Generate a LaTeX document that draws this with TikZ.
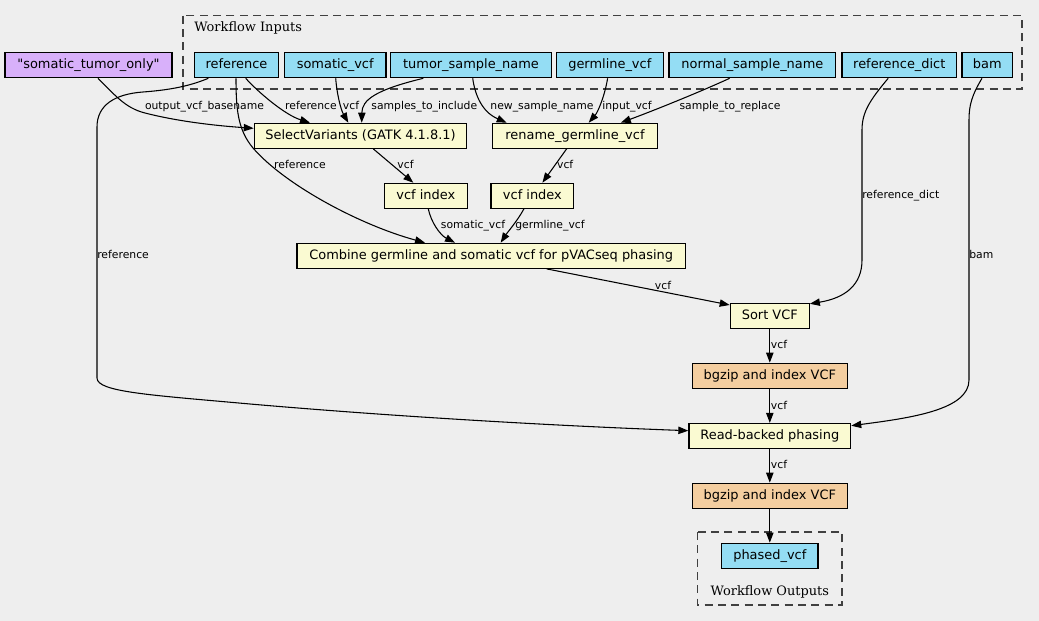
\documentclass[tikz,border=0pt]{standalone}
\usepackage{fontspec}
\setmainfont{DejaVu Sans}
\newfontfamily\plainsans{DejaVu Sans}[Ligatures=TeXOff]
\newfontfamily\clusterfont{DejaVu Serif}
\usetikzlibrary{arrows.meta,calc}

\definecolor{bgc}{RGB}{238,238,238}
\definecolor{inblue}{RGB}{148,221,244}
\definecolor{stepyel}{RGB}{250,250,210}
\definecolor{bgzorange}{RGB}{244,206,160}
\definecolor{constpurple}{RGB}{216,176,250}

\begin{document}
\begin{tikzpicture}[x=0.75pt,y=-0.75pt,
  box/.style={draw=black,line width=0.9pt,inner sep=0pt,minimum height=18.75pt,
    text height=6.9pt,text depth=1.9pt,font=\fontsize{9.7}{11}\selectfont},
  w/.style={minimum width=#1*0.75pt},
  inp/.style={box,fill=inblue},
  stp/.style={box,fill=stepyel},
  bgz/.style={box,fill=bgzorange},
  cst/.style={box,fill=constpurple},
  cluster/.style={draw=black!75,line width=0.8pt,dash pattern=on 6pt off 4pt},
  edge/.style={draw=black,line width=0.8pt,-{Triangle[length=7.5pt,width=5.5pt]}},
  elabel/.style={font=\fontsize{8.1}{9}\selectfont,inner sep=0pt,text height=6.1pt,text depth=0pt},
  clabel/.style={font=\clusterfont\fontsize{9.7}{11}\selectfont,inner sep=0pt}
]
\path[use as bounding box,fill=bgc] (0,0) rectangle (1039,621);

% clusters
\draw[cluster] (183,15.7) rectangle (1022,89);
\node[clabel,anchor=west] (inlabel) at (194,27.7) {Workflow Inputs};
\draw[cluster] (697.7,532) rectangle (842,605);
\node[clabel] (outlabel) at (769.8,591.7) {Workflow Outputs};

% input nodes
\node[cst,w=167] (sto) at (88.5,65.2) {\plainsans "somatic\_tumor\_only"};
\node[inp,w=84.4] (ref) at (236.5,65.2) {reference};
\node[inp,w=101.7] (somvcf) at (335.2,65.2) {somatic\_vcf};
\node[inp,w=160.6] (tsn) at (471,65.2) {tumor\_sample\_name};
\node[inp,w=106.9] (gvcf) at (609.8,65.2) {germline\_vcf};
\node[inp,w=166.8] (nsn) at (752.4,65.2) {normal\_sample\_name};
\node[inp,w=114.7] (rdict) at (899.3,65.2) {reference\_dict};
\node[inp,w=50.6] (bam) at (987.3,65.2) {bam};

% steps
\node[stp,w=212.4] (selvar) at (360.5,135.8) {SelectVariants (GATK 4.1.8.1)};
\node[stp,w=164.4] (rename) at (575,135.8) {rename\_germline\_vcf};
\node[stp,w=83] (vidx1) at (425.8,195.8) {vcf index};
\node[stp,w=82.8] (vidx2) at (532.4,195.8) {vcf index};
\node[stp,w=388.3] (combine) at (491.2,255.8) {Combine germline and somatic vcf for pVACseq phasing};
\node[stp,w=79] (sort) at (769.8,315.8) {Sort VCF};
\node[bgz,w=154.6] (bgz1) at (769.8,375.8) {bgzip and index VCF};
\node[stp,w=161.7] (read) at (769.8,436) {Read-backed phasing};
\node[bgz,w=154.6] (bgz2) at (769.8,495.8) {bgzip and index VCF};
\node[inp,w=96.3] (phased) at (769.8,555.8) {phased\_vcf};

% edges into SelectVariants
\draw[edge] ($(sto.south)+(9.5,0)$) .. controls (115,95) and (125,108) .. (145,113)
  .. controls (180,122) and (220,126) .. ($(selvar.west)+(0,-7.5)$);
\node[elabel] (l1) at (204.5,105) {output\_vcf\_basename};
\draw[edge] ($(ref.south)+(9.2,0)$) .. controls (258,92) and (285,115) .. ($(selvar.north)+(-50.5,0)$);
\node[elabel] (l2) at (311,105) {reference};
\draw[edge] ($(somvcf.south)+(0.5,0)$) .. controls (337,95) and (341,110) .. ($(selvar.north)+(-12.2,0)$);
\node[elabel] (l3) at (351,105) {vcf};
\draw[edge] ($(tsn.south)+(-47.7,0)$) .. controls (375,90) and (362,100) .. ($(selvar.north)+(1.2,0)$);
\node[elabel] (l4) at (424.3,105) {samples\_to\_include};

% edges into rename
\draw[edge] ($(tsn.south)+(1.7,0)$) .. controls (475,95) and (482,112) .. ($(rename.north)+(-68.3,0)$);
\node[elabel] (l5) at (542,105) {new\_sample\_name};
\draw[edge] ($(gvcf.south)+(-2.2,0)$) .. controls (605,95) and (598,112) .. ($(rename.north)+(13.7,0)$);
\node[elabel] (l6) at (627,105) {input\_vcf};
\draw[edge] ($(nsn.south)+(-22.8,0)$) .. controls (700,92) and (650,112) .. ($(rename.north)+(45.8,0)$);
\node[elabel] (l7) at (730,105) {sample\_to\_replace};

% reference into Combine
\draw[edge] ($(ref.south)+(-0.5,0)$) .. controls (236,110) and (238,130) .. (253,148)
  .. controls (285,185) and (360,225) .. ($(combine.north)+(-66.2,0)$);
\node[elabel] (l8) at (300,164.7) {reference};

% to vcf index
\draw[edge] ($(selvar.south)+(12.8,0)$) -- ($(vidx1.north)+(-12.5,0)$);
\node[elabel] (l9) at (405.5,164.7) {vcf};
\draw[edge] ($(rename.south)+(-8.4,0)$) -- ($(vidx2.north)+(10,0)$);
\node[elabel] (l10) at (565.2,164.7) {vcf};

% to combine
\draw[edge] ($(vidx1.south)+(2.5,0)$) .. controls (431,222) and (440,235) .. ($(combine.north)+(-36.2,0)$);
\node[elabel] (l11) at (473,224.7) {somatic\_vcf};
\draw[edge] ($(vidx2.south)+(-8.5,0)$) .. controls (518,220) and (507,233) .. ($(combine.north)+(9.5,0)$);
\node[elabel] (l12) at (550,224.7) {germline\_vcf};

% reference to read-backed phasing
\draw[edge] ($(ref.south)+(-28.2,0)$) .. controls (190,86) and (170,90) .. (143,92)
  .. controls (115,94) and (97,105) .. (97,127) -- (97,378)
  .. controls (97,392) and (150,395) .. (250,404)
  .. controls (400,417) and (560,426) .. ($(read.west)+(0,-5.3)$);
\node[elabel,anchor=west] (l13) at (97,254.7) {reference};

% combine to sort
\draw[edge] ($(combine.south)+(55.5,0)$) -- ($(sort.west)+(0,-10.8)$);
\node[elabel] (l14) at (663,285) {vcf};

% reference_dict to sort
\draw[edge] ($(rdict.south)+(-11.1,0)$) .. controls (870,100) and (862,112) .. (862,130)
  -- (862,260) .. controls (862,285) and (845,298) .. ($(sort.east)+(0,-12)$);
\node[elabel,anchor=west] (l15) at (862,194.7) {reference\_dict};

% bam to read
\draw[edge] ($(bam.south)+(-5.3,0)$) .. controls (972,95) and (969,105) .. (969,120)
  -- (969,380) .. controls (969,410) and (910,418) .. ($(read.east)+(0,-10.3)$);
\node[elabel,anchor=west] (l16) at (969,254.7) {bam};

% column
\draw[edge] (sort.south) -- (bgz1.north);
\node[elabel,anchor=west] (l17) at (770.7,344.3) {vcf};
\draw[edge] (bgz1.south) -- (read.north);
\node[elabel,anchor=west] (l18) at (770.7,405) {vcf};
\draw[edge] (read.south) -- (bgz2.north);
\node[elabel,anchor=west] (l19) at (770.7,464.3) {vcf};
\draw[edge] (bgz2.south) -- (phased.north);
\end{tikzpicture}
\end{document}
